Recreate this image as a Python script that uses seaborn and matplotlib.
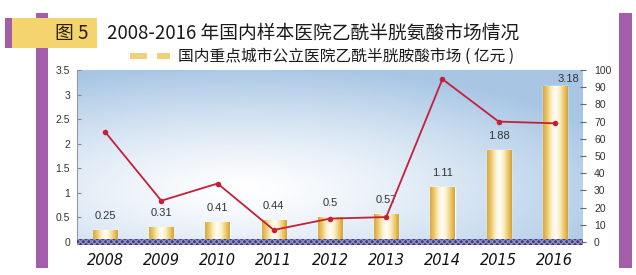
import numpy as np
import pandas as pd
import matplotlib
matplotlib.use("Agg")
import matplotlib.pyplot as plt
import seaborn as sns
from matplotlib.patches import Rectangle
from matplotlib.colors import LinearSegmentedColormap

# ---------------- data ----------------
years = ["2008", "2009", "2010", "2011", "2012", "2013", "2014", "2015", "2016"]
market = [0.25, 0.31, 0.41, 0.44, 0.5, 0.57, 1.11, 1.88, 3.18]
growth = [64, 24, 34, 7, 13.6, 14.5, 94.7, 70, 69]
left_ticks = [0, 0.5, 1, 1.5, 2, 2.5, 3, 3.5]
left_tick_labels = ["0", "0.5", "1", "1.5", "2", "2.5", "3", "3.5"]
right_ticks = [0, 10, 20, 30, 40, 50, 60, 70, 80, 90, 100]
title = "2008-2016 年国内样本医院乙酰半胱氨酸市场情况"
fig_label = "图 5"
legend_label = "国内重点城市公立医院乙酰半胱胺酸市场 ( 亿元 )"

df = pd.DataFrame({"year": years, "market": market, "growth": growth})

# ---------------- style ----------------
sns.set_theme(style="white")
plt.rcParams["font.family"] = ["Liberation Sans", "DejaVu Sans"]
CJK = ["Noto Sans CJK SC", "DejaVu Sans"]
PURPLE = "#A35DA9"
BANNER = "#F4D46E"
LINE = "#C4203A"

W, H = 636, 275
fig = plt.figure(figsize=(6.36, 2.75), dpi=100)
fig.patch.set_facecolor("white")


def fx(px):
    return px / W


def fy(py):
    return 1 - py / H


pos = [fx(77), fy(242), fx(583) - fx(77), fy(70) - fy(242)]

# background gradient axes
bg = fig.add_axes(pos, zorder=-1)
gx, gy = np.meshgrid(np.linspace(0, 1, 300), np.linspace(1, 0, 150))
d = np.sqrt(((gx - 0.33) / 1.0) ** 2 + ((gy - 0.3) / 0.9) ** 2)
t = np.clip(d / 0.8, 0, 1) ** 1.3 * 0.85
white = np.array([1.0, 1.0, 1.0])
blue = np.array([0.60, 0.74, 0.88])
img = white[None, None, :] * (1 - t[..., None]) + blue[None, None, :] * t[..., None]
bg.imshow(img, extent=[0, 1, 0, 1], aspect="auto")
bg.axis("off")

# main axes
ax = fig.add_axes(pos, zorder=1)
ax.patch.set_alpha(0)
sns.barplot(data=df, x="year", y="market", ax=ax, width=0.43,
            color="#E3B54A", saturation=1, zorder=2)

bar_cmap = LinearSegmentedColormap.from_list(
    "gold", ["#D8A73E", "#EDCB6E", "#FBEFC4", "#FFFFFF", "#FBEFC4", "#EDCB6E", "#D6A23A"])
hgrad = np.linspace(0, 1, 64)[None, :]
for p in list(ax.patches):
    x0, y0 = p.get_x(), p.get_y()
    w, h = p.get_width(), p.get_height()
    im = ax.imshow(hgrad, extent=[x0, x0 + w, y0, y0 + h], cmap=bar_cmap,
                   aspect="auto", zorder=3, interpolation="bicubic")
    im.set_clip_path(p)

ax.set_xlim(-0.5, len(years) - 0.5)
ax.set_ylim(0, 3.5)
ax.set_yticks(left_ticks)
ax.set_yticklabels(left_tick_labels)
ax.set_xlabel("")
ax.set_ylabel("")
ax.tick_params(axis="y", direction="in", length=3, width=0.8, color="#888",
               labelsize=7.5, pad=5, labelcolor="#333")
ax.tick_params(axis="x", length=0, pad=8, labelsize=10.5, labelcolor="#111")
for lab in ax.get_xticklabels():
    lab.set_fontstyle("italic")
    lab.set_family("DejaVu Sans")
for s in ["top", "right", "bottom"]:
    ax.spines[s].set_visible(False)
ax.spines["left"].set_color("#999")
ax.spines["left"].set_linewidth(0.8)

# value labels
label_dx = [0, 0, 0, 0, 0, 0, 0, 0, 14]
label_dy = [14, 14, 14, 14, 14, 14, 14, 14, 7]
for i, v in enumerate(market):
    ax.annotate(f"{v:g}", xy=(i, v), xytext=(label_dx[i] * 0.72, label_dy[i] * 0.72),
                textcoords="offset points", ha="center", va="center",
                fontsize=8, color="#333", zorder=6)

# growth line on twin axis
ax2 = ax.twinx()
sns.lineplot(x=np.arange(len(years)), y=growth, ax=ax2, color=LINE, lw=1.3,
             marker="o", markersize=4, markeredgewidth=0, zorder=5)
ax2.set_ylim(0, 100)
ax2.set_yticks(right_ticks)
ax2.tick_params(axis="y", direction="inout", length=4, width=0.8, color="#666",
                labelsize=7.5, pad=6, labelcolor="#333")
for s in ["top", "right", "bottom", "left"]:
    ax2.spines[s].set_visible(False)
ax2.set_ylabel("")

# hatched base strip
fig.add_artist(Rectangle((fx(77), fy(244.5)), fx(583) - fx(77), fy(238.5) - fy(244.5),
                         transform=fig.transFigure, facecolor="#3B3977",
                         edgecolor="#8F8DC4", hatch="xxxxxx", lw=0, zorder=10))

# purple side bars
fig.add_artist(Rectangle((fx(36), fy(268)), fx(48) - fx(36), fy(13) - fy(268),
                         transform=fig.transFigure, color=PURPLE, lw=0, zorder=2))
fig.add_artist(Rectangle((fx(619), fy(268)), fx(632) - fx(619), fy(13) - fy(268),
                         transform=fig.transFigure, color=PURPLE, lw=0, zorder=2))
# banner
fig.add_artist(Rectangle((fx(5), fy(48)), fx(12) - fx(5), fy(18) - fy(48),
                         transform=fig.transFigure, color=PURPLE, lw=0, zorder=3))
fig.add_artist(Rectangle((fx(12), fy(48)), fx(97) - fx(12), fy(18) - fy(48),
                         transform=fig.transFigure, color=BANNER, lw=0, zorder=3))

fig.text(fx(55), fy(33), fig_label, ha="left", va="center", fontsize=13.5,
         color="#2A1E0A", family=CJK, zorder=4)
fig.text(fx(107), fy(33), title, ha="left", va="center", fontsize=13.5,
         color="#1A1A1A", family=CJK, zorder=4)

# legend
fig.add_artist(Rectangle((fx(130), fy(59)), fx(147) - fx(130), fy(53) - fy(59),
                         transform=fig.transFigure, color="#EECB68", lw=0, alpha=0.85, zorder=4))
fig.add_artist(Rectangle((fx(157), fy(59)), fx(170) - fx(157), fy(53) - fy(59),
                         transform=fig.transFigure, color="#EFC860", lw=0, alpha=0.85, zorder=4))
fig.text(fx(178), fy(56), legend_label, ha="left", va="center", fontsize=11.3,
         color="#1A1A1A", family=CJK, zorder=4)

fig.savefig("out.png", dpi=100)
